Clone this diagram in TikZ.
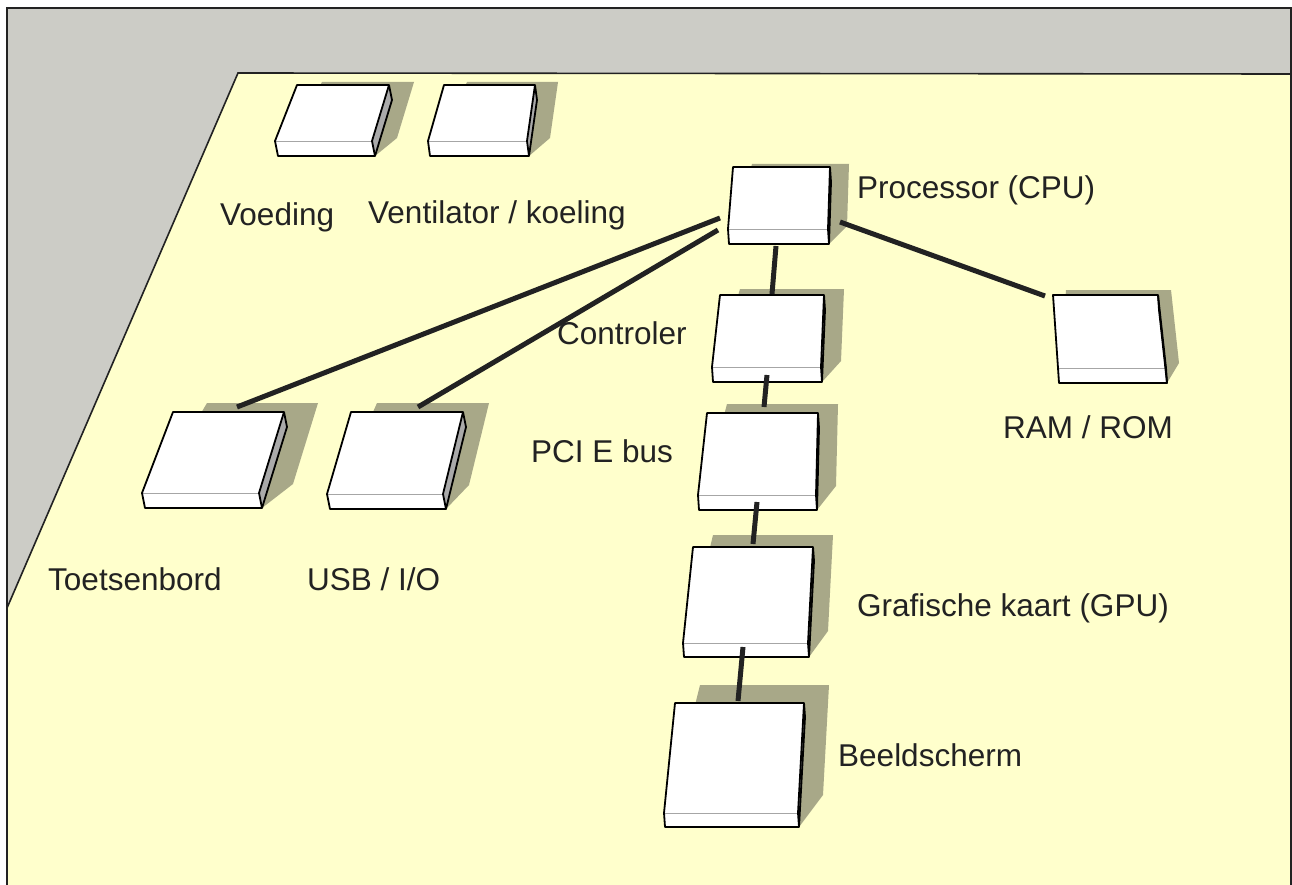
\documentclass[tikz,border=0pt]{standalone}
\usepackage{fontspec}
\setmainfont{Liberation Sans}
\usetikzlibrary{calc}

\definecolor{wallgray}{RGB}{204,204,198}
\definecolor{boardyellow}{RGB}{255,255,204}
\definecolor{shadeolive}{RGB}{168,168,136}
\definecolor{sidegray}{RGB}{170,170,170}
\definecolor{inkgray}{RGB}{34,34,34}

\begin{document}
\begin{tikzpicture}[
  x=1pt,y=-1pt,
  frame/.style={line width=1.6pt,inkgray},
  board/.style={fill=boardyellow},
  shade/.style={fill=shadeolive},
  face/.style={fill=white},
  side/.style={fill=sidegray},
  outline/.style={line width=1.8pt,black,line join=round},
  seam/.style={line width=.8pt,gray!70},
  link/.style={line width=5pt,inkgray},
  label/.style={anchor=base west,inner sep=0pt,text=inkgray,
    font=\fontsize{31.5}{38}\selectfont}
]
  \useasboundingbox (0,0) rectangle (1292,885);

  % Wall and board
  \fill[wallgray] (7,8) rectangle (1291,900);
  \fill[board] (238,73) -- (1291,74) -- (1291,900) -- (7,900) -- (7,608) -- cycle;
  \draw[frame] (7,608) -- (238,73) -- (1291,74);
  \draw[frame] (7,900) -- (7,8) -- (1291,8) -- (1291,900);

  % Parts: top face corners, thickness vector and shadow offset
  \foreach \n/\tl/\tr/\br/\bl/\d/\o in {
      vo/{297,85}/{389,85}/{372,141}/{275,141}/{3,15}/{25,-3},
      ve/{444,85}/{535,85}/{527,141}/{428,141}/{2,15}/{23,-3},
      tb/{173,412}/{284,412}/{259,493}/{142,493}/{3,15}/{34,-9},
      usb/{351,412}/{463,412}/{443,494}/{327,494}/{3,15}/{26,-9},
      cpu/{733,167}/{830,167}/{828,229}/{728,229}/{1,15}/{19,-3},
      ctl/{720,295}/{824,295}/{821,367}/{712,367}/{1,15}/{20,-6},
      pci/{707,413}/{818,413}/{816,495}/{698,495}/{1,15}/{20,-9},
      gpu/{693,547}/{813,547}/{808,643}/{683,643}/{1,14}/{20,-12},
      bs/{675,703}/{804,703}/{798,813}/{664,813}/{1,14}/{25,-18},
      ram/{1053,295}/{1158,295}/{1166,368}/{1058,368}/{1,15}/{13,-5}} {
    \coordinate (\n-tl) at (\tl);
    \coordinate (\n-tr) at (\tr);
    \coordinate (\n-br) at (\br);
    \coordinate (\n-bl) at (\bl);
    \fill[shade] ($(\n-tl)+(\o)$) -- ($(\n-tr)+(\o)$) -- ($(\n-br)+(\o)$)
      -- ($(\n-br)+(\d)$) -- ($(\n-bl)+(\d)$) -- cycle;
    \fill[face] (\n-tl) -- (\n-tr) -- (\n-br) -- (\n-bl) -- cycle;
    \fill[face] (\n-bl) -- (\n-br) -- ($(\n-br)+(\d)$) -- ($(\n-bl)+(\d)$) -- cycle;
    \fill[side] (\n-tr) -- ($(\n-tr)+(\d)$) -- ($(\n-br)+(\d)$) -- (\n-br) -- cycle;
    \draw[seam] (\n-bl) -- (\n-br);
    \draw[outline] (\n-tr) -- (\n-br) -- ($(\n-br)+(\d)$);
    \draw[outline] (\n-tl) -- (\n-tr) -- ($(\n-tr)+(\d)$) -- ($(\n-br)+(\d)$)
      -- ($(\n-bl)+(\d)$) -- (\n-bl) -- cycle;
  }

  % Connector ends
  \coordinate (cpu-w1) at (720,218);
  \coordinate (cpu-w2) at (718,230);
  \coordinate (cpu-e) at (840,222);
  \coordinate (cpu-s) at (776,246);
  \coordinate (tb-n) at (237,407);
  \coordinate (usb-n) at (418,407);
  \coordinate (ram-n) at (1045,296);
  \coordinate (ctl-n) at (772,294);
  \coordinate (ctl-s) at (767,375);
  \coordinate (pci-n) at (764,407);
  \coordinate (pci-s) at (757,502);
  \coordinate (gpu-n) at (753,544);
  \coordinate (gpu-s) at (743,647);
  \coordinate (bs-n) at (738,701);
  \foreach \a/\b in {cpu-w1/tb-n,cpu-w2/usb-n,cpu-e/ram-n,cpu-s/ctl-n,
      ctl-s/pci-n,pci-s/gpu-n,gpu-s/bs-n} {
    \draw[link] (\a) -- (\b);
  }

  % Labels
  \node[label] (vo-text) at (220,226) {Voeding};
  \node[label] (ve-text) at (368,224) {Ventilator / koeling};
  \node[label] (cpu-text) at (857,199) {Processor (CPU)};
  \node[label] (ctl-text) at (557,344) {Controler};
  \node[label] (pci-text) at (531,462) {PCI E bus};
  \node[label] (ram-text) at (1003,438) {RAM / ROM};
  \node[label] (tb-text) at (48,590) {Toetsenbord};
  \node[label] (usb-text) at (307,590) {USB / I/O};
  \node[label] (gpu-text) at (857,616) {Grafische kaart (GPU)};
  \node[label] (bs-text) at (838,766) {Beeldscherm};
\end{tikzpicture}
\end{document}
